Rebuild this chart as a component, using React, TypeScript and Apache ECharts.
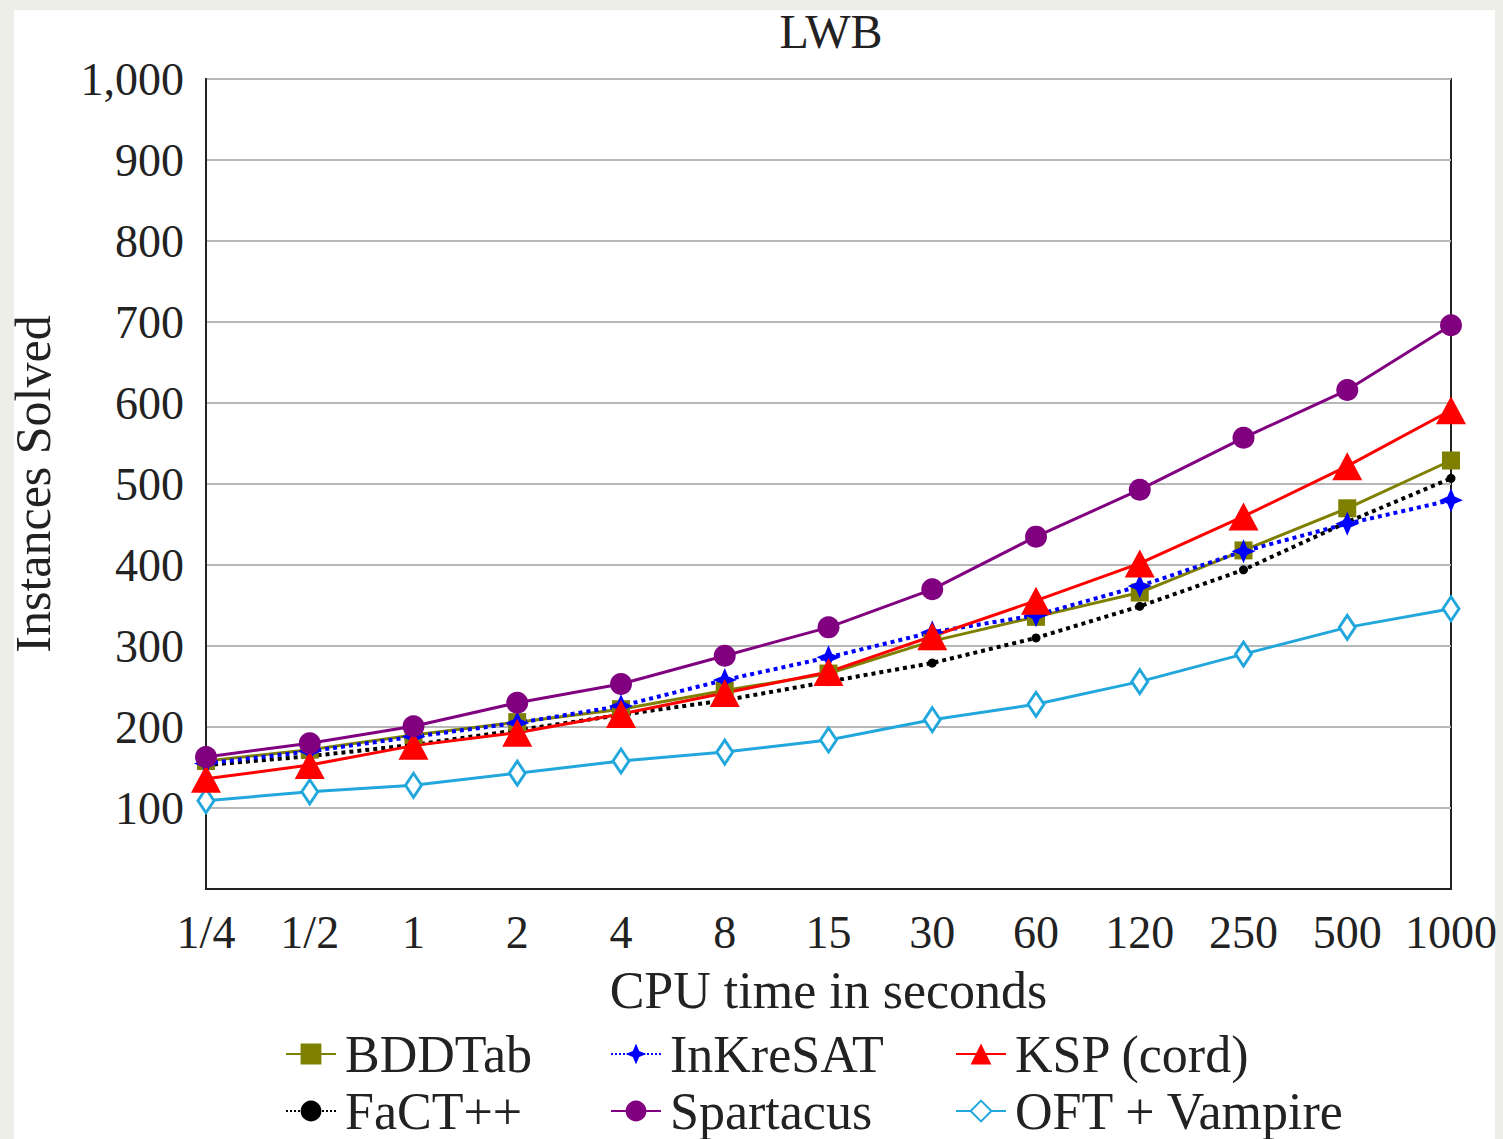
import React, { useEffect, useRef } from "react";
import * as echarts from "echarts";

const categories = ["1/4", "1/2", "1", "2", "4", "8", "15", "30", "60", "120", "250", "500", "1000"];
const bddtab = [158, 172, 190, 206, 222, 245, 266, 306, 336, 366, 418, 470, 529];
const inkresat = [155, 170, 188, 205, 226, 258, 286, 317, 338, 374, 417, 451, 480];
const ksp = [136, 153, 177, 193, 216, 242, 268, 312, 356, 402, 460, 522, 591];
const fact = [153, 164, 178, 196, 215, 233, 256, 279, 310, 349, 394, 453, 507];
const spartacus = [163, 180, 201, 230, 253, 288, 323, 370, 435, 493, 557, 616, 696];
const oft = [109, 120, 128, 143, 158, 169, 184, 209, 228, 256, 290, 323, 346];
const yTicks = [100, 200, 300, 400, 500, 600, 700, 800, 900, 1000];

const FONT = "'Liberation Serif', 'DejaVu Serif', serif";
const starPath = "path://M0,-10 L3,-3 L10,0 L3,3 L0,10 L-3,3 L-10,0 L-3,-3 Z";

export default function App() {
  const ref = useRef<HTMLDivElement>(null);
  useEffect(() => {
    if (!ref.current) return;
    const chart = echarts.init(ref.current, null, { renderer: "svg" });
    const mk = (name: string, data: number[], color: string, symbol: string, size: any, dotted: boolean, extra: any = {}) => ({
      name,
      type: "line",
      data,
      symbol,
      symbolSize: size,
      lineStyle: { color, width: dotted ? 4 : 3, type: dotted ? "dotted" : "solid" },
      itemStyle: { color },
      ...extra,
    });
    const legendPos = [
      { name: "BDDTab", left: 285, top: 1028 },
      { name: "InKreSAT", left: 610, top: 1028 },
      { name: "KSP (cord)", left: 955, top: 1028 },
      { name: "FaCT++", left: 285, top: 1085 },
      { name: "Spartacus", left: 610, top: 1085 },
      { name: "OFT + Vampire", left: 955, top: 1085 },
    ];
    chart.setOption({
      animation: false,
      title: {
        text: "LWB",
        left: 826,
        textAlign: "center",
        top: 5,
        textStyle: { fontFamily: FONT, fontSize: 48, lineHeight: 42, fontWeight: "normal", color: "#222" },
      },
      legend: legendPos.map((l) => ({
        data: [l.name],
        left: l.left,
        top: l.top,
        padding: 0,
        itemWidth: 50,
        itemHeight: 26,
        itemGap: 0,
        textStyle: { fontFamily: FONT, fontSize: 52, color: "#222", padding: [0, 0, 0, 4] },
      })),
      grid: {
        left: 206,
        top: 79,
        right: 52,
        bottom: 250,
        outerBoundsMode: "none",
        containLabel: false,
        show: true,
        borderColor: "#222",
        borderWidth: 2,
        backgroundColor: "#fff",
      },
      xAxis: {
        type: "category",
        data: categories,
        boundaryGap: false,
        axisLine: { lineStyle: { color: "#222", width: 2 } },
        axisTick: { show: false },
        axisLabel: { fontFamily: FONT, fontSize: 46, color: "#222", margin: 20, interval: 0 },
        name: "CPU time in seconds",
        nameLocation: "middle",
        nameGap: 75,
        nameTextStyle: { fontFamily: FONT, fontSize: 52, color: "#222" },
      },
      yAxis: {
        type: "value",
        min: 0,
        max: 1000,
        interval: 100,
        axisLine: { show: true, lineStyle: { color: "#222", width: 2 } },
        axisTick: { show: false },
        splitLine: { lineStyle: { color: "#b8b8b8", width: 2 } },
        axisLabel: {
          fontFamily: FONT,
          fontSize: 46,
          color: "#222",
          margin: 22,
          formatter: (v: number) => (yTicks.includes(v) ? v.toLocaleString("en-US") : ""),
        },
        name: "Instances Solved",
        nameLocation: "middle",
        nameGap: 148,
        nameTextStyle: { fontFamily: FONT, fontSize: 50, color: "#222" },
      },
      series: [
        mk("OFT + Vampire", oft, "#22a7dd", "diamond", [16, 24], false, {
          itemStyle: { color: "#ffffff", borderColor: "#22a7dd", borderWidth: 3 },
        }),
        mk("FaCT++", fact, "#000000", "circle", 9, true),
        mk("BDDTab", bddtab, "#808000", "rect", 18, false),
        mk("InKreSAT", inkresat, "#0000ff", starPath, 24, true),
        mk("KSP (cord)", ksp, "#ff0000", "triangle", [30, 28], false),
        mk("Spartacus", spartacus, "#800080", "circle", 22, false),
      ],
    });
    return () => chart.dispose();
  }, []);
  return (
    <div style={{ position: "fixed", left: 0, top: 0, width: 1503, height: 1139, background: "#eeeee8" }}>
      <div style={{ position: "absolute", left: 14, top: 10, width: 1481, height: 1129, background: "#fff" }} />
      <div ref={ref} style={{ position: "absolute", left: 0, top: 0, width: 1503, height: 1139 }} />
    </div>
  );
}
